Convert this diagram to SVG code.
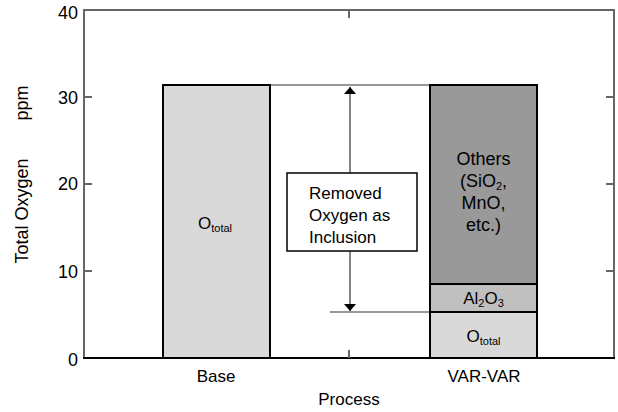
<svg xmlns="http://www.w3.org/2000/svg" width="618" height="412" viewBox="0 0 618 412">
<style>
text{font-family:"Liberation Sans",Arial,sans-serif;fill:#000}
.lab{font-size:17px}
.big{font-size:18px}
.tick{font-size:18px;text-anchor:end}
.mid{text-anchor:middle}
.sub{font-size:11px}
.frame{stroke:#666;stroke-width:2;fill:none}
.bar{stroke:#000;stroke-width:2}
.thin{stroke:#333;stroke-width:1.2;fill:none}
</style>
<defs>
<marker id="ah" viewBox="0 0 10 10" refX="10" refY="5" markerWidth="7" markerHeight="12" markerUnits="userSpaceOnUse" orient="auto" preserveAspectRatio="none">
<path d="M0,0 L10,5 L0,10 Z" fill="#000"/>
</marker>
</defs>
<g id="axes">
<path class="frame" d="M84,358 V10 H614 V358"/>
<line x1="83" y1="358" x2="615" y2="358" stroke="#000" stroke-width="2"/>
<path class="frame" stroke-width="1.5" d="M84,97 H92 M84,184 H92 M84,271 H92 M606,97 H614 M606,184 H614 M606,271 H614 M349,10 V18 M349,350 V358"/>
<text class="tick" x="78" y="19">40</text>
<text class="tick" x="78" y="104">30</text>
<text class="tick" x="78" y="190">20</text>
<text class="tick" x="78" y="278">10</text>
<text class="tick" x="78" y="366">0</text>
<text class="big mid" transform="translate(28,211) rotate(-90)">Total Oxygen</text>
<text class="big mid" transform="translate(28,103) rotate(-90)">ppm</text>
<text class="lab mid" x="216" y="382">Base</text>
<text class="lab mid" x="484" y="382">VAR-VAR</text>
<text class="lab mid" x="349" y="405">Process</text>
</g>
<g id="connectors">
<line class="thin" x1="270" y1="85" x2="430" y2="85"/>
<line class="thin" x1="330" y1="312" x2="430" y2="312"/>
<line x1="350" y1="200" x2="350" y2="87" stroke="#333" stroke-width="1.2" marker-end="url(#ah)"/>
<line x1="350" y1="200" x2="350" y2="311" stroke="#333" stroke-width="1.2" marker-end="url(#ah)"/>
</g>
<g id="base-bar">
<rect class="bar" x="163" y="85" width="107" height="273" fill="#d9d9d9"/>
<text class="lab mid" x="215" y="229">O<tspan class="sub" dy="3">total</tspan></text>
</g>
<g id="var-others">
<rect class="bar" x="430" y="85" width="107" height="199" fill="#999"/>
<text class="big mid" x="483.5" y="165">Others</text>
<text class="big mid" x="483.5" y="187">(SiO<tspan class="sub" dy="3">2</tspan><tspan dy="-3">,</tspan></text>
<text class="big mid" x="483.5" y="209">MnO,</text>
<text class="big mid" x="483.5" y="231">etc.)</text>
</g>
<g id="var-al2o3">
<rect class="bar" x="430" y="284" width="107" height="28" fill="#c0c0c0"/>
<text class="lab mid" x="483.5" y="304">Al<tspan class="sub" dy="3">2</tspan><tspan dy="-3">O</tspan><tspan class="sub" dy="3">3</tspan></text>
</g>
<g id="var-ototal">
<rect class="bar" x="430" y="312" width="107" height="46" fill="#d9d9d9"/>
<text class="lab mid" x="483.5" y="342">O<tspan class="sub" dy="3">total</tspan></text>
</g>
<g id="removed-box">
<rect x="287" y="173" width="130" height="78" fill="#fff" stroke="#000" stroke-width="1.5"/>
<text class="lab" x="309" y="199">Removed</text>
<text class="lab" x="309" y="221">Oxygen as</text>
<text class="lab" x="309" y="243">Inclusion</text>
</g>
</svg>
